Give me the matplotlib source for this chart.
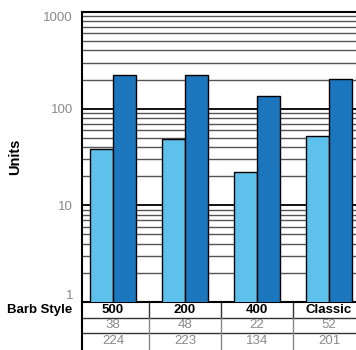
import matplotlib.pyplot as plt
import numpy as np
from matplotlib.ticker import FixedLocator, NullFormatter, NullLocator
from matplotlib.transforms import blended_transform_factory

plt.rcParams['font.family'] = ['Liberation Sans', 'DejaVu Sans']

# Données
styles = ["500", "200", "400", "Classic"]
serie_claire = [38, 48, 22, 52]
serie_foncee = [224, 223, 134, 201]
couleur_claire = "#5DC1EC"
couleur_foncee = "#1C76BD"

fig = plt.figure(figsize=(3.56, 3.5), dpi=100)
# axes qui dépasse à droite (graphique recadré)
ax = fig.add_axes([82/356, 1-302/350, 283/356, 290/350])

x = np.arange(len(styles))
w = 0.32
ax.bar(x - w/2, serie_claire, w, color=couleur_claire, edgecolor="black", linewidth=1, zorder=3)
ax.bar(x + w/2, serie_foncee, w, color=couleur_foncee, edgecolor="black", linewidth=1, zorder=3)

ax.set_yscale("log")
ax.set_ylim(1, 1000)
ax.set_xlim(-0.43, 3.5)

# Quadrillage
mineurs = [m * 10**k for k in range(0, 3) for m in range(2, 10)]
for v in mineurs:
    ax.axhline(v, color="#555555", linewidth=1, zorder=1)
for v in [10, 100]:
    ax.axhline(v, color="black", linewidth=1.3, zorder=1)

ax.yaxis.set_major_locator(FixedLocator([1, 10, 100, 1000]))
ax.yaxis.set_minor_locator(NullLocator())
ax.yaxis.set_minor_formatter(NullFormatter())
ax.set_yticklabels(["1", "10", "100", "1000"])
ax.tick_params(axis="y", length=0, pad=6.5, labelsize=9.5, labelcolor="#8a8a8a")
etiquettes = ax.get_yticklabels()
etiquettes[0].set_va("bottom")
etiquettes[-1].set_va("top")
ax.set_xticks([])

for s in ["left", "top", "bottom"]:
    ax.spines[s].set_linewidth(1.5)
    ax.spines[s].set_color("black")
ax.spines["right"].set_visible(False)

ax.set_ylabel("Units", fontsize=10.5, fontweight="bold", labelpad=15)

# Tableau sous le graphique
tr = blended_transform_factory(ax.transData, ax.transAxes)
h = 290
lignes = [0, -16/h, -31/h, -48/h]
for yy in lignes[1:3]:
    ax.plot([-0.43, 3.5], [yy, yy], transform=tr, color="#333333", linewidth=1, clip_on=False)
ax.plot([-0.43, -0.43], [0, lignes[-1]], transform=tr, color="black", linewidth=1.5, clip_on=False)
for b in [0.5, 1.5, 2.5]:
    ax.plot([b, b], [0, lignes[1]], transform=tr, color="#333333", linewidth=1, clip_on=False)
    ax.plot([b, b], [lignes[1], lignes[-1]], transform=tr, color="#888888", linewidth=1, clip_on=False)

ax.text(-0.57, (lignes[0]+lignes[1])/2, "Barb Style", transform=tr, ha="right", va="center",
        fontsize=9.5, fontweight="bold")
for i, s in enumerate(styles):
    ax.text(i, (lignes[0]+lignes[1])/2, s, transform=tr, ha="center", va="center",
            fontsize=9.5, fontweight="bold")
    ax.text(i, (lignes[1]+lignes[2])/2, str(serie_claire[i]), transform=tr, ha="center",
            va="center", fontsize=9.5, color="#8a8a8a")
    ax.text(i, (lignes[2]+lignes[3])/2 + 1/h, str(serie_foncee[i]), transform=tr, ha="center",
            va="center", fontsize=9.5, color="#8a8a8a")

fig.savefig("out.png", dpi=100)
